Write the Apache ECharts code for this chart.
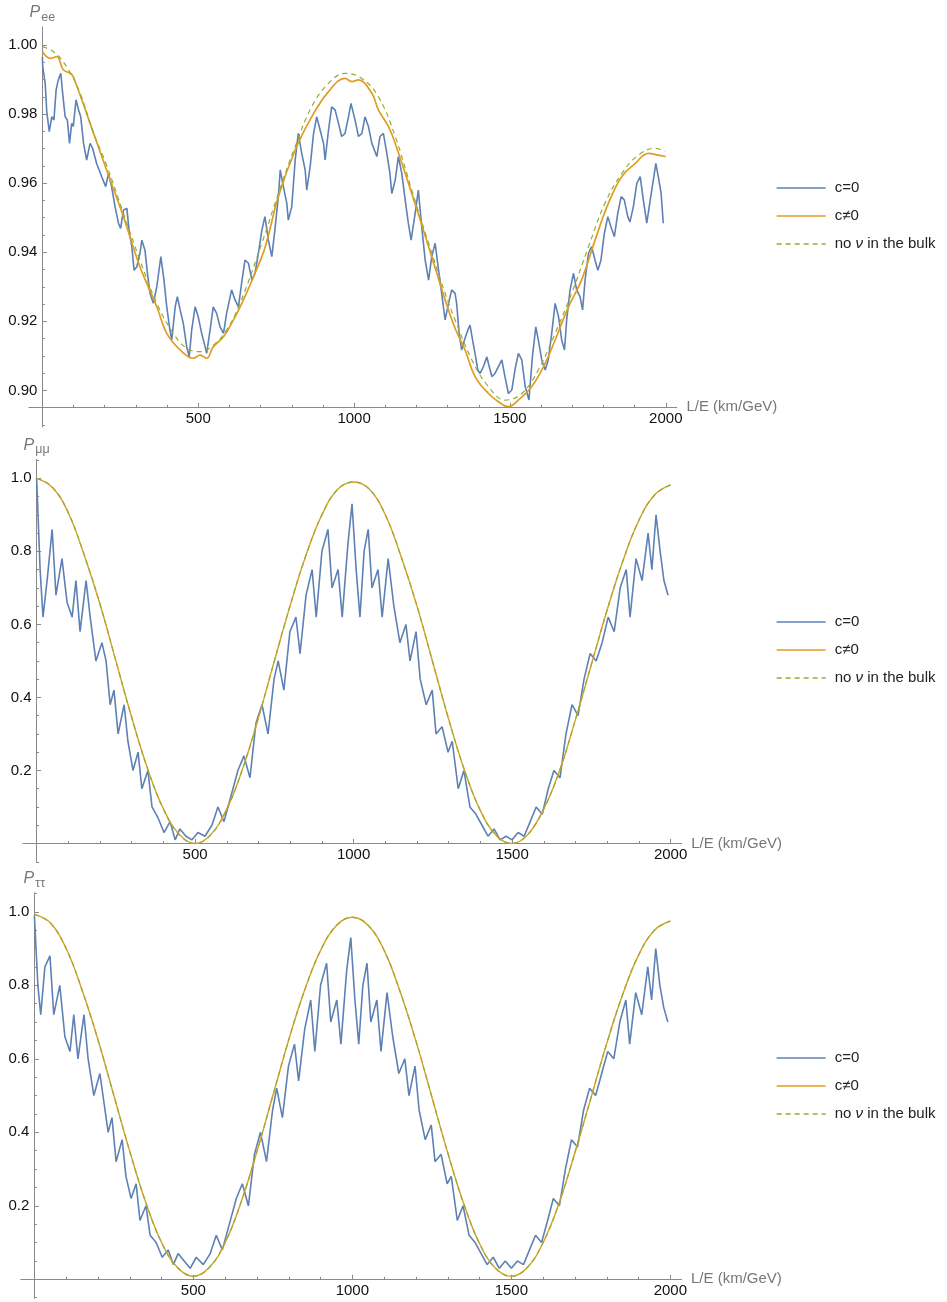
<!DOCTYPE html>
<html><head><meta charset="utf-8">
<script src="https://cdn.jsdelivr.net/npm/echarts@6/dist/echarts.min.js"></script>
<style>html,body{margin:0;padding:0;background:#fff}#c{width:947px;height:1302px}</style>
</head><body><div id="c"></div>
<script>
// ---------- tick labels ----------
const xMajor = [500, 1000, 1500, 2000];
const xMinor = [100,200,300,400,600,700,800,900,1100,1200,1300,1400,1600,1700,1800,1900];
const eeMajor = [0.90, 0.92, 0.94, 0.96, 0.98, 1.00];
const eeMinor = [0.89,0.895,0.905,0.91,0.915,0.925,0.93,0.935,0.945,0.95,0.955,0.965,0.97,0.975,0.985,0.99,0.995];
const pMajor = [0.2, 0.4, 0.6, 0.8, 1.0];
const pMinor = [-0.05,0.05,0.1,0.15,0.25,0.3,0.35,0.45,0.5,0.55,0.65,0.7,0.75,0.85,0.9,0.95,1.05];
const legendNames = ['c=0', 'c\u22600', 'no \u03bd in the bulk'];

// ---------- P_ee ----------
const eeC0 = [[0,0.9965],[1,0.9937],[9,0.9889],[14,0.9807],[22,0.9749],[30,0.9792],[37,0.9783],[44,0.9870],[51,0.9899],[59,0.9918],[65,0.9860],[73,0.9792],[80,0.9783],[87,0.9715],[94,0.9773],[99,0.9764],[108,0.9841],[116,0.9812],[123,0.9792],[132,0.9715],[142,0.9667],[153,0.9715],[161,0.9701],[174,0.9657],[190,0.9619],[203,0.9590],[212,0.9628],[222,0.9590],[233,0.9532],[244,0.9484],[251,0.9469],[260,0.9522],[271,0.9527],[279,0.9455],[287,0.9416],[294,0.9348],[303,0.9358],[313,0.9397],[319,0.9435],[329,0.9406],[337,0.9339],[345,0.9281],[356,0.9252],[367,0.9300],[380,0.9387],[390,0.9320],[399,0.9242],[409,0.9175],[415,0.9146],[426,0.9242],[433,0.9271],[442,0.9233],[452,0.9194],[463,0.9126],[471,0.9097],[479,0.9175],[490,0.9242],[500,0.9213],[511,0.9165],[522,0.9126],[527,0.9107],[538,0.9175],[548,0.9242],[559,0.9223],[570,0.9184],[581,0.9165],[591,0.9223],[607,0.9291],[618,0.9262],[629,0.9242],[639,0.9310],[650,0.9377],[661,0.9368],[672,0.9319],[682,0.9339],[693,0.9397],[704,0.9464],[714,0.9503],[725,0.9435],[736,0.9387],[747,0.9474],[757,0.9561],[763,0.9638],[773,0.9590],[784,0.9542],[789,0.9493],[800,0.9532],[811,0.9667],[821,0.9744],[832,0.9686],[843,0.9638],[848,0.9580],[859,0.9648],[870,0.9744],[880,0.9792],[891,0.9754],[902,0.9715],[907,0.9667],[918,0.9754],[928,0.9821],[939,0.9812],[950,0.9773],[960,0.9735],[971,0.9744],[982,0.9792],[990,0.9831],[1003,0.9783],[1014,0.9735],[1025,0.9744],[1035,0.9792],[1046,0.9764],[1057,0.9715],[1073,0.9677],[1083,0.9735],[1094,0.9744],[1105,0.9686],[1115,0.9628],[1121,0.9570],[1132,0.9609],[1142,0.9677],[1153,0.9628],[1164,0.9551],[1174,0.9484],[1183,0.9435],[1196,0.9513],[1206,0.9580],[1217,0.9474],[1228,0.9377],[1239,0.9319],[1249,0.9387],[1260,0.9426],[1271,0.9348],[1281,0.9281],[1292,0.9204],[1303,0.9252],[1313,0.9291],[1324,0.9281],[1329,0.9252],[1337,0.9165],[1345,0.9117],[1354,0.9146],[1365,0.9175],[1372,0.9189],[1380,0.9146],[1388,0.9107],[1397,0.9059],[1404,0.9049],[1415,0.9069],[1426,0.9097],[1431,0.9078],[1442,0.9040],[1452,0.9049],[1463,0.9069],[1474,0.9088],[1484,0.9040],[1495,0.8991],[1506,0.9001],[1516,0.9059],[1527,0.9107],[1538,0.9088],[1549,0.9011],[1561,0.8972],[1572,0.9097],[1583,0.9184],[1591,0.9146],[1602,0.9088],[1613,0.9059],[1623,0.9088],[1634,0.9165],[1645,0.9252],[1656,0.9213],[1666,0.9146],[1675,0.9117],[1682,0.9204],[1693,0.9291],[1704,0.9339],[1714,0.9291],[1725,0.9271],[1733,0.9233],[1741,0.9319],[1752,0.9397],[1762,0.9416],[1773,0.9377],[1782,0.9348],[1792,0.9377],[1803,0.9455],[1814,0.9503],[1824,0.9474],[1835,0.9445],[1846,0.9513],[1857,0.9561],[1867,0.9551],[1878,0.9503],[1885,0.9488],[1896,0.9532],[1907,0.9599],[1918,0.9619],[1928,0.9551],[1939,0.9484],[1950,0.9551],[1960,0.9609],[1968,0.9657],[1976,0.9619],[1985,0.9570],[1992,0.9484]];
const eeC1 = [[0,0.9981],[25,0.9961],[46,0.9966],[67,0.9928],[89,0.9918],[99,0.9908],[153,0.9773],[206,0.9638],[260,0.9503],[313,0.9358],[367,0.9242],[399,0.9165],[442,0.9117],[484,0.9093],[506,0.9102],[527,0.9093],[548,0.9126],[581,0.9155],[613,0.9204],[645,0.9262],[682,0.9339],[715,0.9416],[757,0.9561],[811,0.9696],[864,0.9792],[918,0.9865],[971,0.9903],[993,0.9894],[1014,0.9899],[1057,0.9860],[1078,0.9812],[1110,0.9764],[1132,0.9715],[1185,0.9570],[1239,0.9416],[1292,0.9262],[1324,0.9180],[1356,0.9117],[1388,0.9040],[1431,0.8991],[1463,0.8967],[1495,0.8953],[1527,0.8972],[1570,0.9011],[1613,0.9078],[1645,0.9146],[1688,0.9242],[1730,0.9320],[1773,0.9435],[1816,0.9542],[1859,0.9619],[1902,0.9657],[1944,0.9686],[1976,0.9681],[2000,0.9677]];
const eeNoBulk = [[0,0.9995],[35,0.9981],[78,0.9937],[121,0.9860],[164,0.9745],[206,0.9652],[260,0.9513],[313,0.9377],[367,0.9252],[420,0.9165],[463,0.9122],[506,0.9112],[548,0.9131],[591,0.9175],[634,0.9252],[704,0.9426],[757,0.9570],[811,0.9706],[864,0.9821],[918,0.9889],[971,0.9918],[1025,0.9903],[1078,0.9850],[1132,0.9735],[1185,0.9580],[1239,0.9426],[1292,0.9281],[1324,0.9204],[1378,0.9088],[1431,0.9011],[1484,0.8972],[1538,0.8991],[1591,0.9059],[1645,0.9165],[1698,0.9281],[1752,0.9416],[1805,0.9542],[1859,0.9628],[1912,0.9681],[1966,0.9701],[1996,0.9691]];

// ---------- P_mumu ----------
const mmC0 = [[0,1.0],[11,0.75],[20,0.62],[33,0.72],[49,0.86],[61,0.68],[80,0.78],[96,0.66],[112,0.62],[124,0.72],[137,0.58],[156,0.72],[169,0.62],[187,0.5],[206,0.55],[219,0.5],[232,0.38],[244,0.42],[257,0.3],[276,0.38],[288,0.28],[304,0.2],[320,0.25],[332,0.15],[351,0.2],[364,0.1],[383,0.07],[402,0.03],[421,0.06],[437,0.01],[452,0.04],[471,0.02],[490,0.01],[509,0.03],[531,0.02],[553,0.05],[572,0.1],[591,0.06],[610,0.12],[635,0.2],[654,0.24],[673,0.18],[692,0.33],[711,0.38],[730,0.3],[749,0.45],[762,0.5],[780,0.42],[799,0.58],[818,0.62],[831,0.52],[850,0.68],[869,0.75],[882,0.62],[900,0.8],[919,0.86],[932,0.7],[951,0.75],[964,0.62],[982,0.82],[995,0.93],[1008,0.75],[1020,0.62],[1033,0.8],[1046,0.86],[1058,0.7],[1077,0.75],[1090,0.62],[1109,0.78],[1127,0.65],[1146,0.55],[1165,0.6],[1178,0.5],[1197,0.58],[1210,0.45],[1229,0.38],[1248,0.42],[1260,0.3],[1279,0.32],[1298,0.25],[1311,0.28],[1330,0.15],[1348,0.2],[1367,0.1],[1386,0.08],[1405,0.05],[1424,0.02],[1443,0.04],[1462,0.01],[1481,0.02],[1500,0.01],[1519,0.03],[1538,0.02],[1557,0.06],[1576,0.1],[1595,0.08],[1614,0.15],[1632,0.2],[1651,0.18],[1670,0.3],[1689,0.38],[1708,0.35],[1727,0.45],[1746,0.52],[1765,0.5],[1784,0.55],[1803,0.62],[1822,0.58],[1841,0.7],[1860,0.75],[1872,0.62],[1891,0.78],[1910,0.72],[1929,0.85],[1941,0.75],[1954,0.9],[1967,0.8],[1979,0.72],[1992,0.68]];
const mmC1 = [[0,1.0],[50,0.975],[100,0.905],[150,0.79],[200,0.655],[250,0.5],[300,0.345],[350,0.205],[400,0.095],[450,0.025],[500,0.0],[550,0.025],[600,0.095],[650,0.205],[700,0.345],[750,0.5],[800,0.652],[850,0.79],[900,0.9],[950,0.97],[1000,0.99],[1050,0.97],[1100,0.9],[1150,0.785],[1200,0.65],[1250,0.495],[1300,0.34],[1350,0.2],[1400,0.09],[1450,0.022],[1500,0.0],[1550,0.025],[1600,0.095],[1650,0.2],[1700,0.34],[1750,0.49],[1800,0.64],[1850,0.775],[1900,0.885],[1950,0.955],[2000,0.982]];
const mmNoBulk = [[0,1.0],[50,0.976],[100,0.906],[150,0.791],[200,0.655],[250,0.5],[300,0.345],[350,0.205],[400,0.094],[450,0.024],[500,0.0],[550,0.024],[600,0.094],[650,0.205],[700,0.345],[750,0.5],[800,0.653],[850,0.79],[900,0.9],[950,0.97],[1000,0.99],[1050,0.97],[1100,0.9],[1150,0.785],[1200,0.65],[1250,0.495],[1300,0.34],[1350,0.2],[1400,0.09],[1450,0.022],[1500,0.0],[1550,0.025],[1600,0.095],[1650,0.2],[1700,0.34],[1750,0.49],[1800,0.64],[1850,0.775],[1900,0.885],[1950,0.955],[2000,0.982]];

// ---------- P_tautau ----------
const ttC0 = [[0,0.99],[11,0.8],[20,0.72],[33,0.85],[49,0.88],[61,0.72],[80,0.8],[96,0.66],[112,0.62],[124,0.72],[137,0.6],[156,0.72],[169,0.6],[187,0.5],[206,0.56],[219,0.48],[232,0.4],[244,0.44],[257,0.32],[276,0.38],[288,0.28],[304,0.22],[320,0.26],[332,0.16],[351,0.2],[364,0.12],[383,0.1],[402,0.06],[421,0.08],[437,0.04],[452,0.07],[471,0.05],[490,0.03],[509,0.06],[531,0.04],[553,0.07],[572,0.12],[591,0.08],[610,0.14],[635,0.22],[654,0.26],[673,0.2],[692,0.34],[711,0.4],[730,0.32],[749,0.46],[762,0.52],[780,0.44],[799,0.58],[818,0.64],[831,0.54],[850,0.68],[869,0.76],[882,0.62],[900,0.8],[919,0.86],[932,0.7],[951,0.76],[964,0.64],[982,0.84],[995,0.93],[1008,0.76],[1020,0.64],[1033,0.8],[1046,0.86],[1058,0.7],[1077,0.76],[1090,0.62],[1109,0.78],[1127,0.66],[1146,0.56],[1165,0.6],[1178,0.5],[1197,0.58],[1210,0.46],[1229,0.38],[1248,0.42],[1260,0.32],[1279,0.34],[1298,0.26],[1311,0.28],[1330,0.16],[1348,0.2],[1367,0.12],[1386,0.1],[1405,0.07],[1424,0.04],[1443,0.06],[1462,0.03],[1481,0.05],[1500,0.03],[1519,0.05],[1538,0.04],[1557,0.08],[1576,0.12],[1595,0.1],[1614,0.16],[1632,0.22],[1651,0.2],[1670,0.3],[1689,0.38],[1708,0.36],[1727,0.46],[1746,0.52],[1765,0.5],[1784,0.56],[1803,0.62],[1822,0.6],[1841,0.7],[1860,0.76],[1872,0.64],[1891,0.78],[1910,0.72],[1929,0.85],[1941,0.76],[1954,0.9],[1967,0.8],[1979,0.74],[1992,0.7]];
const ttC1 = [[0,0.993],[50,0.97],[100,0.9],[150,0.787],[200,0.652],[250,0.5],[300,0.348],[350,0.21],[400,0.1],[450,0.032],[500,0.008],[550,0.032],[600,0.1],[650,0.21],[700,0.348],[750,0.5],[800,0.652],[850,0.787],[900,0.895],[950,0.963],[1000,0.985],[1050,0.963],[1100,0.895],[1150,0.783],[1200,0.648],[1250,0.496],[1300,0.344],[1350,0.206],[1400,0.097],[1450,0.03],[1500,0.008],[1550,0.032],[1600,0.1],[1650,0.207],[1700,0.345],[1750,0.493],[1800,0.642],[1850,0.775],[1900,0.882],[1950,0.95],[2000,0.975]];
const ttNoBulk = [[0,0.993],[50,0.97],[100,0.9],[150,0.787],[200,0.652],[250,0.5],[300,0.348],[350,0.21],[400,0.1],[450,0.032],[500,0.008],[550,0.032],[600,0.1],[650,0.21],[700,0.348],[750,0.5],[800,0.652],[850,0.787],[900,0.895],[950,0.963],[1000,0.985],[1050,0.963],[1100,0.895],[1150,0.783],[1200,0.648],[1250,0.496],[1300,0.344],[1350,0.206],[1400,0.097],[1450,0.03],[1500,0.008],[1550,0.032],[1600,0.1],[1650,0.207],[1700,0.345],[1750,0.493],[1800,0.642],[1850,0.775],[1900,0.882],[1950,0.95],[2000,0.975]];

// ---------- layout / style ----------
const FONT = '"Liberation Sans", Arial, sans-serif';
const AXIS = '#8a8a8a';
const BLUE = '#5E81B5', ORANGE = '#E19C24', GREEN = '#8FB032';
const panels = [
  {grid:{left:29, top:27, width:647.7, height:400}, x:[-43,2035], y:[0.8894,1.0052], xCross:0.8951,
   yMajor:eeMajor, yMinor:eeMinor, dec:2, sub:'ee', legendTop:180, data:[eeC0, eeC1, eeNoBulk], c1w:1.7},
  {grid:{left:23, top:459.3, width:658.7, height:403.2}, x:[-43,2035], y:[-0.052,1.052], xCross:0,
   yMajor:pMajor, yMinor:pMinor, dec:1, sub:'\u03bc\u03bc', legendTop:614, data:[mmC0, mmC1, mmNoBulk], c1w:1.4},
  {grid:{left:20.7, top:892.7, width:660.8, height:405.7}, x:[-43,2035], y:[-0.052,1.052], xCross:0,
   yMajor:pMajor, yMinor:pMinor, dec:1, sub:'\u03c4\u03c4', legendTop:1050, data:[ttC0, ttC1, ttNoBulk], c1w:1.4}
];

const option = {animation:false, backgroundColor:'#fff', grid:[], xAxis:[], yAxis:[], series:[], legend:[]};
panels.forEach((p, i) => {
  option.grid.push(Object.assign({containLabel:false, outerBoundsMode:'none'}, p.grid));
  // axes cross where Mathematica puts them: x axis at y = xCross, y axis at x = 0
  const xOff = -(p.xCross - p.y[0]) / (p.y[1] - p.y[0]) * p.grid.height;
  const yOff = -(0 - p.x[0]) / (p.x[1] - p.x[0]) * p.grid.width;
  const baseX = {type:'value', gridIndex:i, min:p.x[0], max:p.x[1], position:'bottom', offset:xOff,
    splitLine:{show:false}};
  option.xAxis.push(Object.assign({}, baseX, {
    axisLine:{show:true, onZero:false, lineStyle:{color:AXIS, width:1}},
    axisTick:{show:true, inside:true, length:4.5, customValues:xMajor, lineStyle:{color:AXIS}},
    axisLabel:{show:true, customValues:xMajor, margin:4, color:'#111', fontSize:15, fontFamily:FONT,
      formatter:v => String(Math.round(v))},
    name:'L/E (km/GeV)', nameLocation:'end', nameGap:9,
    nameTextStyle:{color:'#777', fontSize:15, fontFamily:FONT, verticalAlign:'middle', align:'left'}
  }));
  option.xAxis.push(Object.assign({}, baseX, {
    axisLine:{show:false, onZero:false},
    axisTick:{show:true, inside:true, length:2.5, customValues:xMinor, lineStyle:{color:AXIS}},
    axisLabel:{show:false}
  }));
  const baseY = {type:'value', gridIndex:i, min:p.y[0], max:p.y[1], position:'left', offset:yOff,
    splitLine:{show:false}};
  option.yAxis.push(Object.assign({}, baseY, {
    axisLine:{show:true, onZero:false, lineStyle:{color:AXIS, width:1}},
    axisTick:{show:true, inside:true, length:4.5, customValues:p.yMajor, lineStyle:{color:AXIS}},
    axisLabel:{show:true, customValues:p.yMajor, margin:5, color:'#111', fontSize:15, fontFamily:FONT,
      formatter:v => Number(v).toFixed(p.dec)},
    name:'{p|P}{s|' + p.sub + '}', nameLocation:'end', nameGap:6,
    nameTextStyle:{color:'#777', fontFamily:FONT, align:'center', verticalAlign:'bottom',
      rich:{p:{fontSize:16, fontStyle:'italic', color:'#777', fontFamily:FONT, lineHeight:20, verticalAlign:'bottom'},
            s:{fontSize:12.5, color:'#777', fontFamily:FONT, lineHeight:20, verticalAlign:'bottom', padding:[0,0,-3,1]}}}
  }));
  option.yAxis.push(Object.assign({}, baseY, {
    axisLine:{show:false, onZero:false},
    axisTick:{show:true, inside:true, length:2.5, customValues:p.yMinor, lineStyle:{color:AXIS}},
    axisLabel:{show:false}
  }));
  const xi = i * 2, yi = i * 2;
  option.series.push({type:'line', name:legendNames[0], xAxisIndex:xi, yAxisIndex:yi, data:p.data[0],
    symbol:'none', showSymbol:false, lineStyle:{color:BLUE, width:1.6}, itemStyle:{color:BLUE}, z:2});
  option.series.push({type:'line', name:legendNames[1], xAxisIndex:xi, yAxisIndex:yi, data:p.data[1],
    symbol:'none', showSymbol:false, smooth:0.4, lineStyle:{color:ORANGE, width:p.c1w}, itemStyle:{color:ORANGE}, z:3});
  option.series.push({type:'line', name:legendNames[2], xAxisIndex:xi, yAxisIndex:yi, data:p.data[2],
    symbol:'none', showSymbol:false, smooth:0.4, lineStyle:{color:GREEN, width:1.2, type:[5,4]}, itemStyle:{color:GREEN}, z:4});
  option.legend.push({
    orient:'vertical', left:776, top:p.legendTop, padding:0, itemWidth:49, itemHeight:12, itemGap:12,
    selectedMode:false, data:legendNames.slice(),
    itemStyle:{opacity:0, borderWidth:0},
    lineStyle:{width:1.3},
    textStyle:{color:'#222', fontSize:15, fontFamily:FONT, lineHeight:16, padding:[0,0,0,4],
      rich:{i:{fontStyle:'italic', fontSize:15, fontFamily:FONT, color:'#222', lineHeight:16}}},
    formatter: name => name === legendNames[2] ? 'no {i|\u03bd} in the bulk' : name
  });
});

const chart = echarts.init(document.getElementById('c'), null, {renderer:'canvas'});
chart.setOption(option);
</script></body></html>
